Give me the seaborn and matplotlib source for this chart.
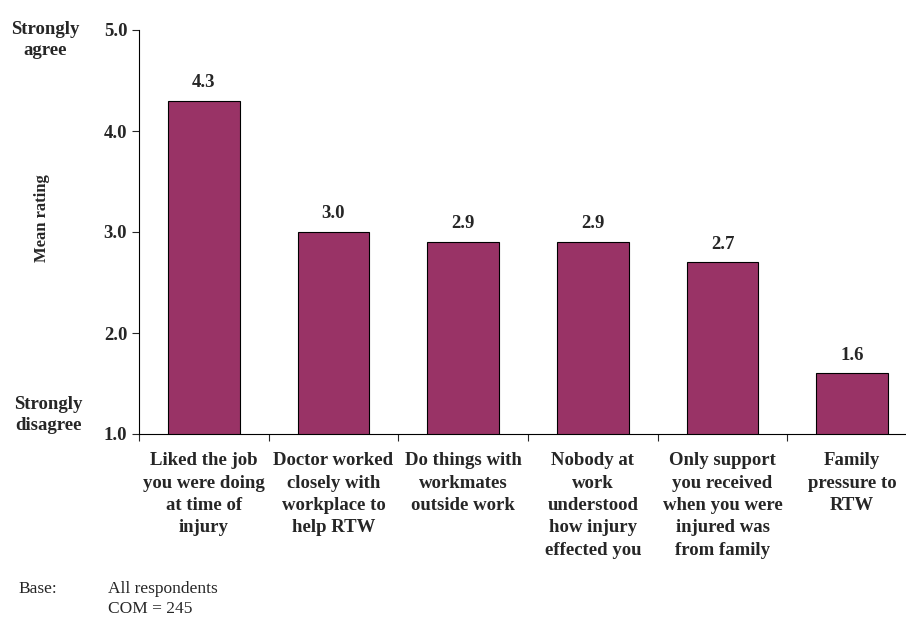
import matplotlib
matplotlib.use("Agg")
import matplotlib.pyplot as plt
import seaborn as sns
import pandas as pd
import numpy as np

categories = [
    "Liked the job\nyou were doing\nat time of\ninjury",
    "Doctor worked\nclosely with\nworkplace to\nhelp RTW",
    "Do things with\nworkmates\noutside work",
    "Nobody at\nwork\nunderstood\nhow injury\neffected you",
    "Only support\nyou received\nwhen you were\ninjured was\nfrom family",
    "Family\npressure to\nRTW",
]
mean_rating = [4.3, 3.0, 2.9, 2.9, 2.7, 1.6]
y_ticks = [1.0, 2.0, 3.0, 4.0, 5.0]

bar_color = "#993366"


def main():
    sns.set_style("ticks")
    plt.rcParams["font.family"] = ["Liberation Serif", "DejaVu Serif"]

    df = pd.DataFrame({"item": categories, "rating": mean_rating})

    fig = plt.figure(figsize=(9.06, 6.19), dpi=100)
    W, H = 906, 619
    left, right, top, bottom = 139, 917, 30, 434
    ax = fig.add_axes([left / W, 1 - bottom / H, (right - left) / W, (bottom - top) / H])

    sns.barplot(data=df, x="item", y="rating", color=bar_color, width=0.555,
                edgecolor="black", linewidth=0.8, saturation=1, ax=ax)

    ax.set_ylim(1.0, 5.0)
    ax.set_xlim(-0.5, len(categories) - 0.5)
    ax.set_yticks(y_ticks)
    ax.set_yticklabels([f"{v:.1f}" for v in y_ticks], fontsize=13.5, fontweight="bold")
    ax.tick_params(axis="y", direction="out", length=5, width=0.8, pad=3.5)

    ax.set_xticks(range(len(categories)))
    ax.set_xticklabels(categories, fontsize=13.5, fontweight="bold", linespacing=1.42)
    ax.set_xticks(np.arange(-0.5, len(categories), 1.0), minor=True)
    ax.tick_params(axis="x", which="major", length=0, pad=13)
    ax.tick_params(axis="x", which="minor", direction="out", length=5, width=0.8)

    for s in ["top", "right"]:
        ax.spines[s].set_visible(False)
    for s in ["left", "bottom"]:
        ax.spines[s].set_linewidth(0.8)
        ax.spines[s].set_color("black")

    ax.set_xlabel("")
    ax.set_ylabel("")

    for i, v in enumerate(mean_rating):
        ax.annotate(f"{v:.1f}", (i, v), xytext=(0, 7), textcoords="offset points",
                    ha="center", va="bottom", fontsize=13.5, fontweight="bold")

    fig.text(45 / W, 1 - 40 / H, "Strongly\nagree", ha="center", va="center",
             fontsize=13.5, fontweight="bold", linespacing=1.35)
    fig.text(48 / W, 1 - 415 / H, "Strongly\ndisagree", ha="center", va="center",
             fontsize=13.5, fontweight="bold", linespacing=1.35)
    fig.text(42 / W, 1 - 218 / H, "Mean rating", ha="center", va="center",
             rotation=90, fontsize=12, fontweight="bold")

    fig.text(18 / W, 1 - 589 / H, "Base:", ha="left", va="center", fontsize=12.5)
    fig.text(108 / W, 1 - 589 / H, "All respondents", ha="left", va="center", fontsize=12.5)
    fig.text(108 / W, 1 - 609 / H, "COM = 245", ha="left", va="center", fontsize=12.5)

    fig.savefig("out.png", dpi=100)


if __name__ == "__main__":
    main()
